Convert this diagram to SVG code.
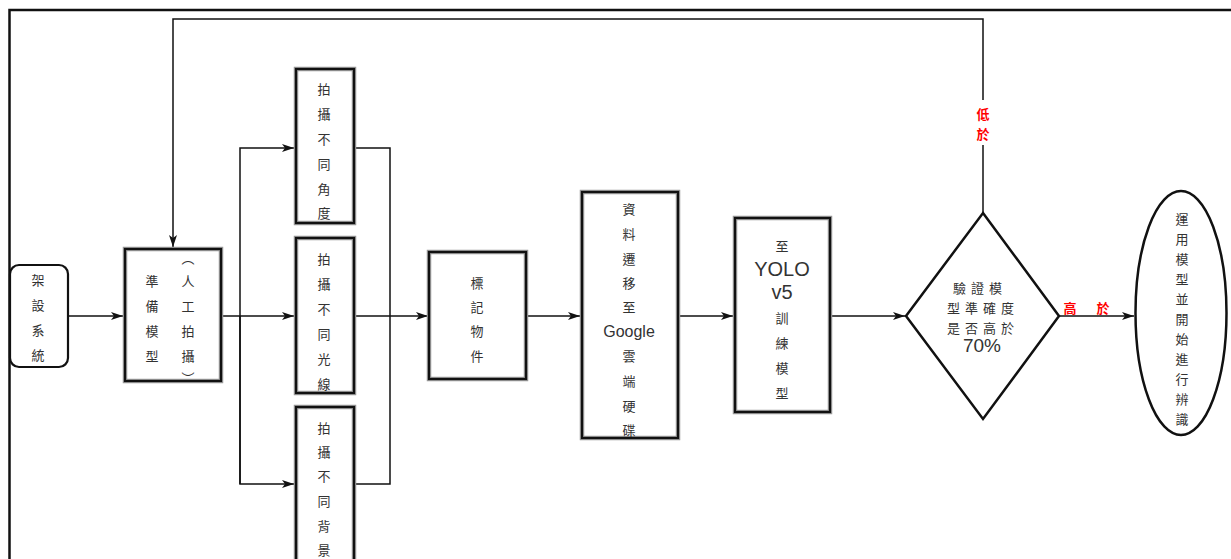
<svg xmlns="http://www.w3.org/2000/svg" width="1231" height="559" viewBox="0 0 1231 559">
<style>
.box{fill:#fff;stroke:#999;stroke-width:4.5}
.boxi{fill:none;stroke:#111;stroke-width:2.2}
.t{font-family:"Noto Sans CJK TC","Liberation Sans",sans-serif;font-size:13px;fill:#333;text-anchor:middle;dominant-baseline:central}
.lat{font-family:"Liberation Sans",Arial,sans-serif;fill:#333;text-anchor:middle;dominant-baseline:central}
.red{font-family:"Noto Sans CJK TC",sans-serif;font-size:13px;font-weight:bold;fill:#f00;text-anchor:middle;dominant-baseline:central}
.ln{fill:none;stroke:#111;stroke-width:1.5}
</style>
<defs>
<marker id="ah" viewBox="0 0 12 8" refX="12" refY="4" markerWidth="12" markerHeight="8" markerUnits="userSpaceOnUse" orient="auto">
<path d="M0,0 L12,4 L0,8 L3,4 Z" fill="#111"/>
</marker>
</defs>
<rect x="0" y="0" width="1231" height="559" fill="#fff"/>
<rect x="9.5" y="10" width="1260" height="600" fill="none" stroke="#111" stroke-width="2.5"/>

<g id="connectors">
<polyline class="ln" points="983,145 983,213"/>
<polyline class="ln" points="983,100 983,19 173,19 173,247" marker-end="url(#ah)"/>
<line class="ln" x1="68" y1="316" x2="123" y2="316" marker-end="url(#ah)"/>
<line class="ln" x1="221" y1="316" x2="294" y2="316" marker-end="url(#ah)"/>
<polyline class="ln" points="240,484 240,148 294,148" marker-end="url(#ah)"/>
<polyline class="ln" points="240,316 240,484 294,484" marker-end="url(#ah)"/>
<polyline class="ln" points="354,148 390,148 390,484 354,484"/>
<line class="ln" x1="354" y1="316" x2="428" y2="316" marker-end="url(#ah)"/>
<line class="ln" x1="527" y1="316" x2="580" y2="316" marker-end="url(#ah)"/>
<line class="ln" x1="679" y1="316" x2="733" y2="316" marker-end="url(#ah)"/>
<line class="ln" x1="831" y1="316" x2="905" y2="316" marker-end="url(#ah)"/>
<line class="ln" x1="1059" y1="316" x2="1134" y2="316" marker-end="url(#ah)"/>
<text class="red" x="983" y="113">低</text>
<text class="red" x="983" y="133">於</text>
<text class="red" x="1070" y="307">高</text>
<text class="red" x="1103" y="307">於</text>
</g>

<g id="n1">
<rect x="10" y="265" width="58" height="102" rx="9" fill="#fff" stroke="#111" stroke-width="2.2"/>
<text class="t" x="38" y="279">架</text>
<text class="t" x="38" y="304">設</text>
<text class="t" x="38" y="329">系</text>
<text class="t" x="38" y="354">統</text>
</g>

<g id="n2">
<rect class="box" x="125" y="249" width="96" height="132"/>
<rect class="boxi" x="125" y="249" width="96" height="132"/>
<text class="t" x="152" y="280">準</text>
<text class="t" x="152" y="305">備</text>
<text class="t" x="152" y="330">模</text>
<text class="t" x="152" y="355">型</text>
<text class="t" x="188" y="257">︵</text>
<text class="t" x="188" y="280">人</text>
<text class="t" x="188" y="305">工</text>
<text class="t" x="188" y="330">拍</text>
<text class="t" x="188" y="355">攝</text>
<text class="t" x="188" y="377">︶</text>
</g>

<g id="n3">
<rect class="box" x="296" y="69" width="58" height="154"/>
<rect class="boxi" x="296" y="69" width="58" height="154"/>
<text class="t" x="324" y="88">拍</text>
<text class="t" x="324" y="113">攝</text>
<text class="t" x="324" y="138">不</text>
<text class="t" x="324" y="163">同</text>
<text class="t" x="324" y="188">角</text>
<text class="t" x="324" y="212">度</text>
</g>

<g id="n4">
<rect class="box" x="296" y="238" width="58" height="155"/>
<rect class="boxi" x="296" y="238" width="58" height="155"/>
<text class="t" x="324" y="258">拍</text>
<text class="t" x="324" y="283">攝</text>
<text class="t" x="324" y="308">不</text>
<text class="t" x="324" y="333">同</text>
<text class="t" x="324" y="358">光</text>
<text class="t" x="324" y="383">線</text>
</g>

<g id="n5">
<rect class="box" x="296" y="407" width="58" height="170"/>
<rect class="boxi" x="296" y="407" width="58" height="170"/>
<text class="t" x="324" y="427">拍</text>
<text class="t" x="324" y="451">攝</text>
<text class="t" x="324" y="475">不</text>
<text class="t" x="324" y="500">同</text>
<text class="t" x="324" y="525">背</text>
<text class="t" x="324" y="549">景</text>
</g>

<g id="n6">
<rect class="box" x="429" y="252" width="97" height="127"/>
<rect class="boxi" x="429" y="252" width="97" height="127"/>
<text class="t" x="477" y="282">標</text>
<text class="t" x="477" y="306">記</text>
<text class="t" x="477" y="330">物</text>
<text class="t" x="477" y="355">件</text>
</g>

<g id="n7">
<rect class="box" x="582" y="192" width="96" height="246"/>
<rect class="boxi" x="582" y="192" width="96" height="246"/>
<text class="t" x="629" y="208">資</text>
<text class="t" x="629" y="233">料</text>
<text class="t" x="629" y="258">遷</text>
<text class="t" x="629" y="282">移</text>
<text class="t" x="629" y="306">至</text>
<text class="lat" x="629" y="331" font-size="16">Google</text>
<text class="t" x="629" y="355">雲</text>
<text class="t" x="629" y="380">端</text>
<text class="t" x="629" y="405">硬</text>
<text class="t" x="629" y="429">碟</text>
</g>

<g id="n8">
<rect class="box" x="735" y="218" width="95" height="194"/>
<rect class="boxi" x="735" y="218" width="95" height="194"/>
<text class="t" x="782" y="245">至</text>
<text class="lat" x="782" y="269" font-size="20">YOLO</text>
<text class="lat" x="782" y="292" font-size="20">v5</text>
<text class="t" x="782" y="317">訓</text>
<text class="t" x="782" y="342">練</text>
<text class="t" x="782" y="367">模</text>
<text class="t" x="782" y="392">型</text>
</g>

<g id="n9">
<polygon points="983,213 1059,316 983,419 906,316" fill="#fff" stroke="#111" stroke-width="2.5"/>
<text class="t" x="980" y="287" letter-spacing="5">驗證模</text>
<text class="t" x="983" y="307" letter-spacing="5">型準確度</text>
<text class="t" x="983" y="327" letter-spacing="5">是否高於</text>
<text class="lat" x="982" y="345" font-size="19">70%</text>
</g>

<g id="n10">
<ellipse cx="1181" cy="313" rx="45.5" ry="122" fill="#fff" stroke="#111" stroke-width="2.5"/>
<text class="t" x="1182" y="218" font-size="12">運</text>
<text class="t" x="1182" y="238" font-size="12">用</text>
<text class="t" x="1182" y="258" font-size="12">模</text>
<text class="t" x="1182" y="278" font-size="12">型</text>
<text class="t" x="1182" y="298" font-size="12">並</text>
<text class="t" x="1182" y="318" font-size="12">開</text>
<text class="t" x="1182" y="338" font-size="12">始</text>
<text class="t" x="1182" y="358" font-size="12">進</text>
<text class="t" x="1182" y="378" font-size="12">行</text>
<text class="t" x="1182" y="398" font-size="12">辨</text>
<text class="t" x="1182" y="418" font-size="12">識</text>
</g>
</svg>
